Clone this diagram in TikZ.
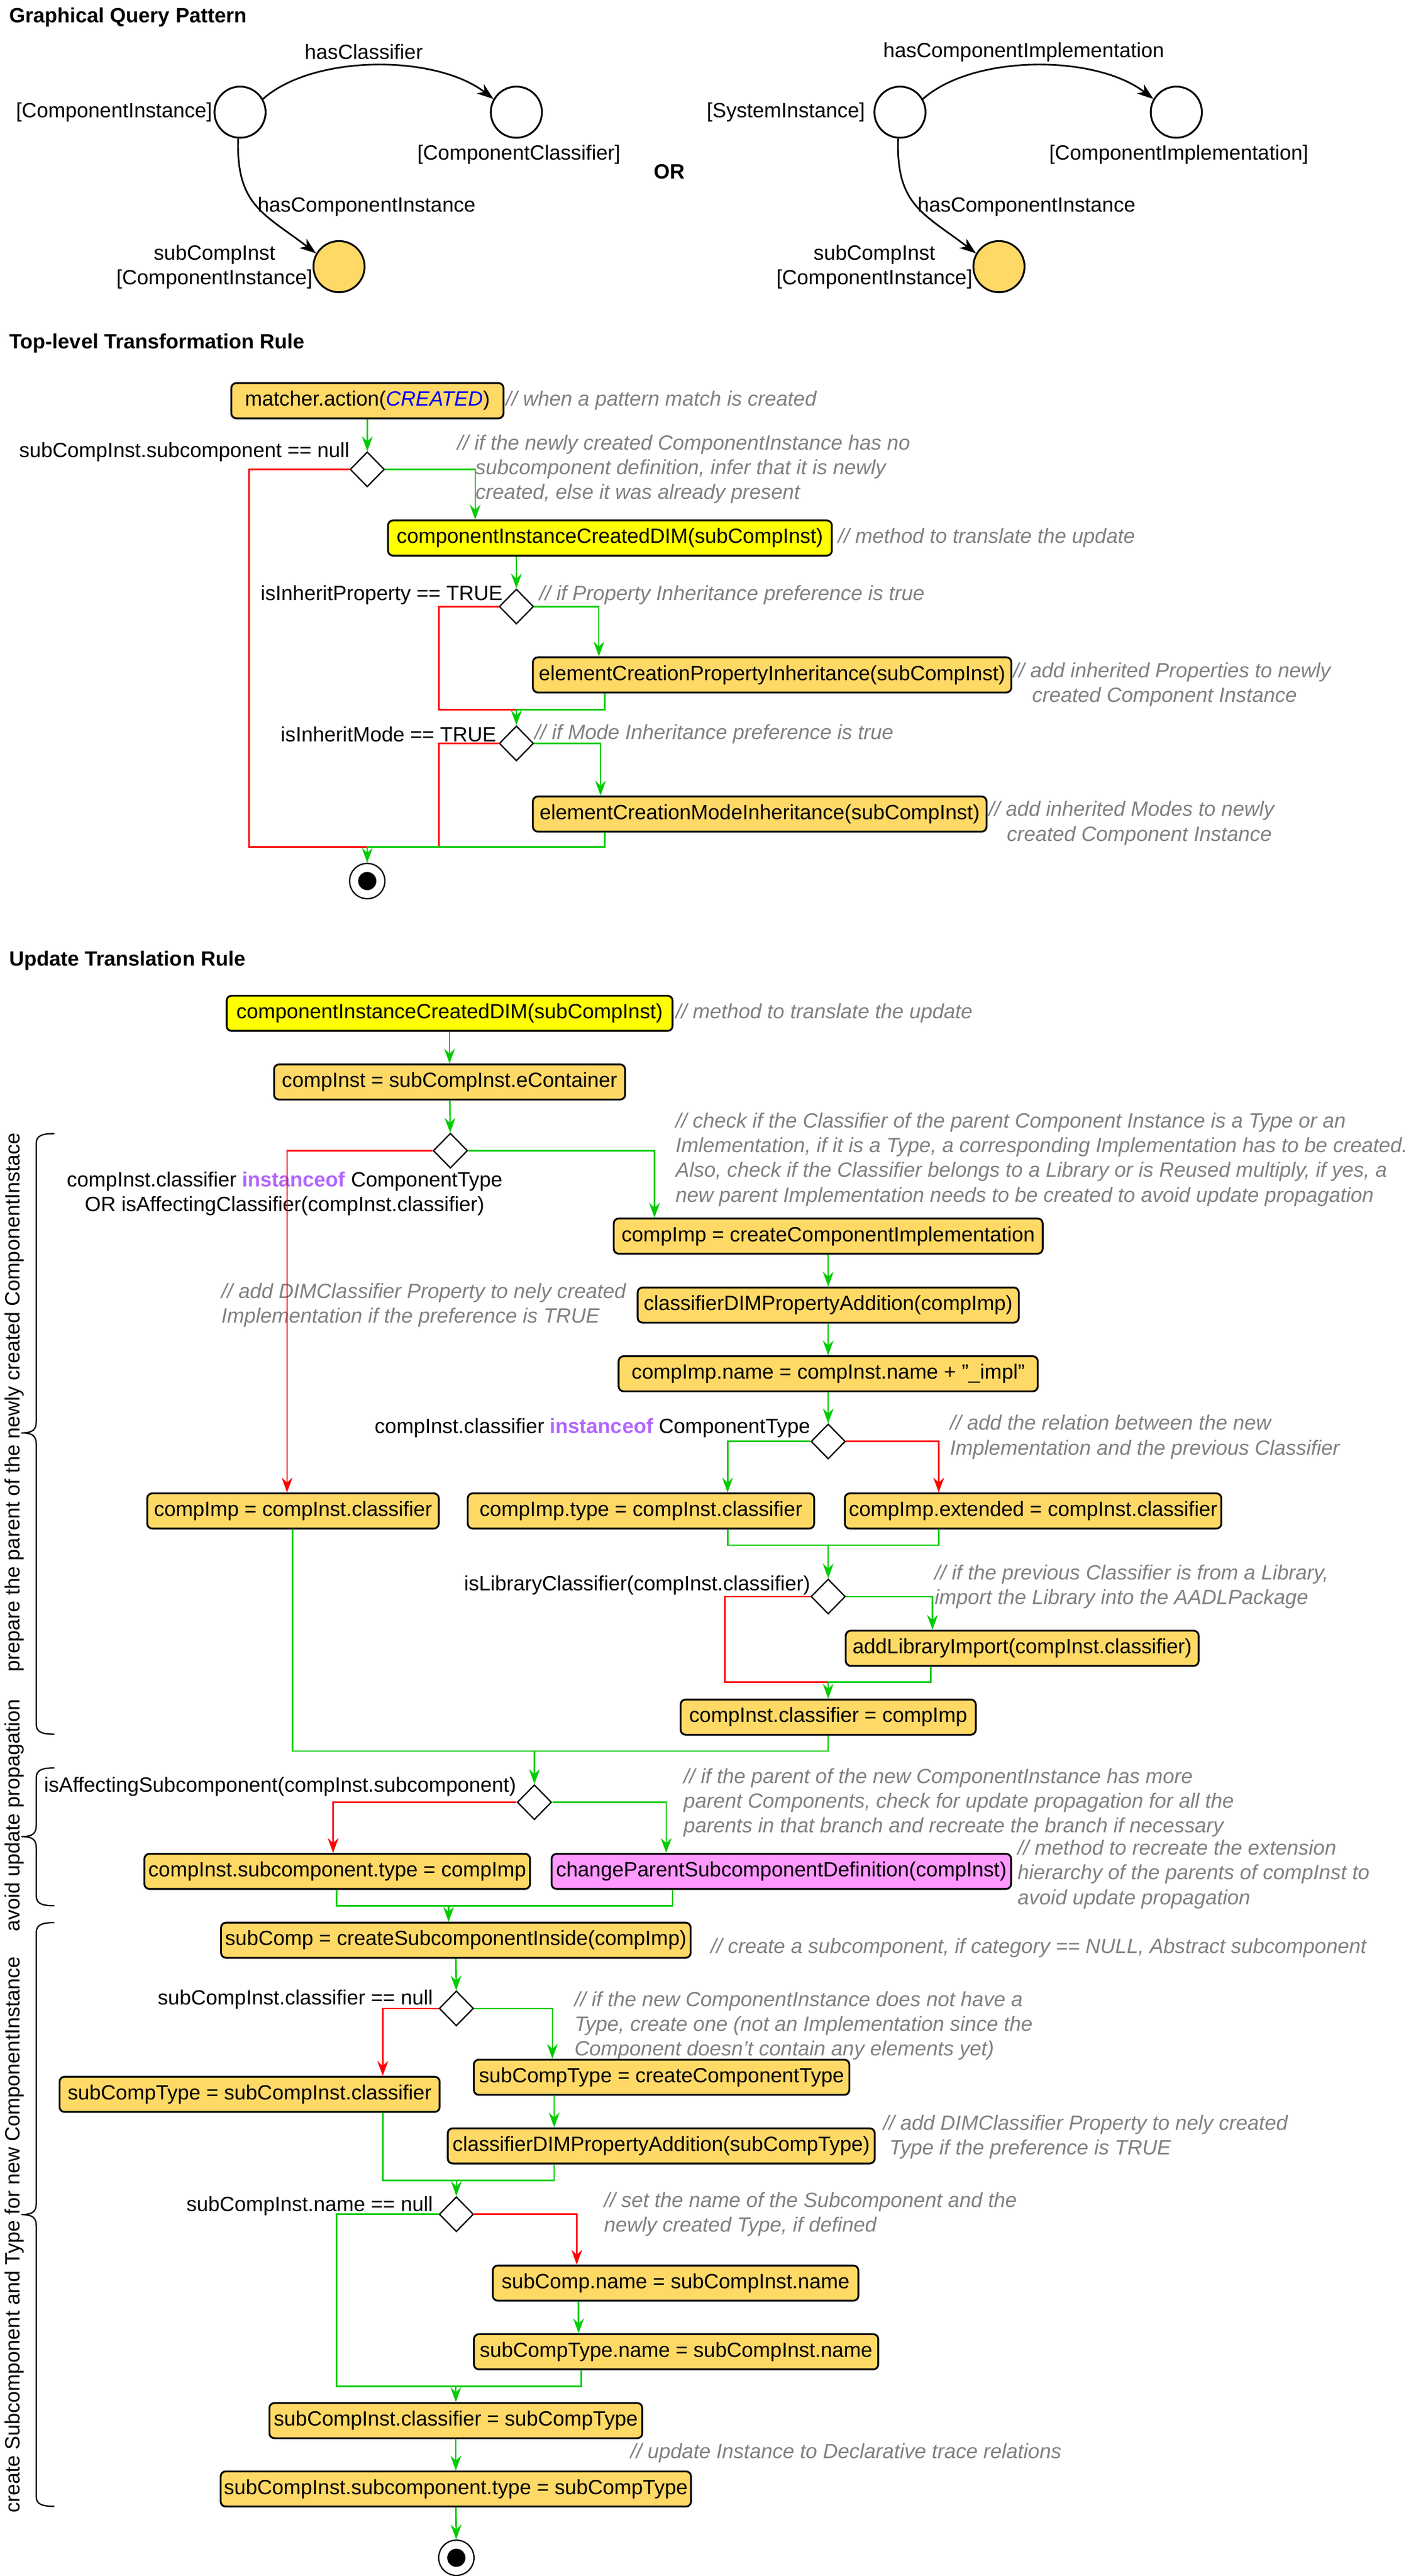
\documentclass[tikz,border=0pt]{standalone}
\usepackage{fontspec}
\setmainfont{Liberation Sans}
\usetikzlibrary{calc,positioning}
\usetikzlibrary{arrows.meta}
\usetikzlibrary{shapes.geometric}
\usepackage{xcolor}
\definecolor{actfill}{HTML}{FFD966}
\definecolor{dimfill}{HTML}{FFFF00}
\definecolor{pinkfill}{HTML}{FF99FF}
\definecolor{flowgreen}{HTML}{00CC00}
\definecolor{flowred}{HTML}{FF0000}
\definecolor{cmtgray}{HTML}{808080}
\definecolor{kwpurple}{HTML}{B266FF}
\definecolor{kwblue}{HTML}{0000FF}

\begin{document}
\begin{tikzpicture}[x=1pt,y=-0.9955pt,
  font=\fontsize{12.5}{15}\selectfont,
  act/.style={draw,line width=1.1pt,rounded corners=3pt,fill=actfill,minimum height=21.3pt,inner xsep=2pt,inner ysep=0pt},
  dec/.style={draw,diamond,line width=.8pt,fill=white,minimum width=20.8pt,minimum height=21.2pt,inner sep=0pt},
  cmt/.style={text=cmtgray,font=\fontsize{12.5}{15}\selectfont\itshape,anchor=west,inner sep=0pt,align=left},
  lbl/.style={inner sep=0pt},
  ttl/.style={font=\fontsize{12.5}{15}\selectfont\bfseries,inner sep=0pt},
  obj/.style={draw,circle,line width=1.1pt,fill=white,minimum size=31pt,inner sep=0pt},
  final/.style={draw,circle,line width=.8pt,fill=white,minimum size=21.4pt,inner sep=0pt},
  ok/.style={draw=flowgreen,line width=.9pt},
  ko/.style={draw=flowred,line width=.9pt},
  arr/.style={-{Stealth[length=9pt,width=6.5pt,inset=3pt]}},
  qarr/.style={line width=1pt,-{Stealth[length=10pt,width=7pt,inset=3pt]}}]
  \useasboundingbox (0,0) rectangle (858,1568);

  % Graphical Query Pattern
  \node[ttl,anchor=west] (title1) at (5.5,10.6) {Graphical Query Pattern};
  \foreach \dx/\src/\trg/\rel/\k/\lx in {0/{[ComponentInstance]}/{[ComponentClassifier]}/hasClassifier/a/128.8,
      400/{[SystemInstance]}/{[ComponentImplementation]}/hasComponentImplementation/b/524.5}
  {
    \node[obj] (src\k) at ({145.5+\dx},68.3) {};
    \node[obj] (trg\k) at ({313+\dx},68.3) {};
    \node[obj,fill=actfill] (sub\k) at ({205.5+\dx},162.3) {};
    \node[lbl,anchor=east] (srclbl\k) at (\lx,68.4) {\src};
    \node[lbl] (trglbl\k) at ({314.5+\dx},94.1) {\trg};
    \node[lbl,align=center] (sublbl\k) at ({130+\dx},162.4) {subCompInst\\{}[ComponentInstance]};
    \node[lbl] (rel\k) at ({220.5+\dx},31.7) {\rel};
    \node[lbl] (hci\k) at ({222.2+\dx},125.6) {hasComponentInstance};
    \draw[qarr] (src\k.30) .. controls ({190+\dx},33) and ({264+\dx},33) .. (trg\k.150);
    \draw[qarr] (src\k.266) .. controls ({143+\dx},125) and ({160+\dx},130) .. (sub\k.150);
  }
  \node[ttl] (orlbl) at (405.6,104.5) {OR};

  % Top-level Transformation Rule
  \node[ttl,anchor=west] (title2) at (5.5,209) {Top-level Transformation Rule};
  \node[act,minimum width=165pt] (match) at (222.7,243.9) {matcher.action(\textcolor{kwblue}{\itshape CREATED})};
  \node[cmt] (matchcmt) at (306.4,243.9) {// when a pattern match is created};
  \node[dec] (d1) at (222.6,285.7) {};
  \node[lbl,anchor=east] (d1lbl) at (212,275) {subCompInst.subcomponent == null};
  \node[cmt] (d1cmt) at (277,285.6) {// if the newly created ComponentInstance has no\\\hspace*{11pt}subcomponent definition, infer that it is newly\\\hspace*{11pt}created, else it was already present};
  \node[act,fill=dimfill,minimum width=269pt] (dim1) at (369.7,327.5) {componentInstanceCreatedDIM(subCompInst)};
  \node[cmt] (dim1cmt) at (507.8,327.5) {// method to translate the update};
  \node[dec] (d2) at (313,369.2) {};
  \node[lbl,anchor=east] (d2lbl) at (304.8,362.1) {isInheritProperty == TRUE};
  \node[cmt] (d2cmt) at (326.7,362.1) {// if Property Inheritance preference is true};
  \node[act,minimum width=290pt] (pinh) at (468,410.8) {elementCreationPropertyInheritance(subCompInst)};
  \node[cmt] (pinhcmt) at (613.9,416.8) {// add inherited Properties to newly\\\hspace*{11.5pt}created Component Instance};
  \node[dec] (d3) at (313,452.5) {};
  \node[lbl,anchor=east] (d3lbl) at (301,446.8) {isInheritMode == TRUE};
  \node[cmt] (d3cmt) at (323.9,446.8) {// if Mode Inheritance preference is true};
  \node[act,minimum width=275pt] (minh) at (460.5,495.5) {elementCreationModeInheritance(subCompInst)};
  \node[cmt] (minhcmt) at (599.1,501.1) {// add inherited Modes to newly\\\hspace*{11pt}created Component Instance};
  \node[final] (end1) at (222.6,536.3) {};
  \fill (end1) circle (5.5pt);
  \coordinate (m1) at (313,431.9);
  \coordinate (m2) at (222.6,515.6);

  \draw[ok,arr] (match) -- (d1);
  \draw[ok,arr] (d1.east) -| (288,0 |- dim1.north);
  \draw[ok,arr] (d2 |- dim1.south) -- (d2.north);
  \draw[ok,arr] (d2.east) -| (363,0 |- pinh.north);
  \draw[ko] (d2.west) -| (266,0 |- m1) -- (m1);
  \draw[ok] (366.6,0 |- pinh.south) |- (m1);
  \draw[ok,arr] (m1) -- (d3.north);
  \draw[ok,arr] (d3.east) -| (364,0 |- minh.north);
  \draw[ko] (d1.west) -| (151,0 |- m2) -- (m2);
  \draw[ko] (d3.west) -| (266,0 |- m2);
  \draw[ok] (366.6,0 |- minh.south) |- (m2);
  \draw[ok,arr] (m2) -- (end1);

  % Update Translation Rule
  \node[ttl,anchor=west] (title3) at (5.5,584.7) {Update Translation Rule};
  \node[act,fill=dimfill,minimum width=270.3pt] (dim2) at (272.5,616.8) {componentInstanceCreatedDIM(subCompInst)};
  \node[cmt] (dim2cmt) at (409.3,616.8) {// method to translate the update};
  \node[act,minimum width=212.8pt] (u2) at (272.5,658.6) {compInst = subCompInst.eContainer};
  \node[dec] (d4) at (273,700.4) {};
  \node[lbl,align=center] (d4lbl) at (172.5,726.5) {compInst.classifier \textcolor{kwpurple}{\bfseries instanceof} ComponentType\\OR isAffectingClassifier(compInst.classifier)};
  \node[cmt] (d4cmt) at (409.3,705.8) {// check if the Classifier of the parent Component Instance is a Type or an\\Imlementation, if it is a Type, a corresponding Implementation has to be created.\\Also, check if the Classifier belongs to a Library or is Reused multiply, if yes, a\\new parent Implementation needs to be created to avoid update propagation};
  \node[act,minimum width=260pt] (u3) at (502,752.4) {compImp = createComponentImplementation};
  \node[act,minimum width=231pt] (u4) at (502,794.4) {classifierDIMPropertyAddition(compImp)};
  \node[cmt] (b1cmt) at (134,794.5) {// add DIMClassifier Property to nely created\\Implementation if the preference is TRUE};
  \node[act,minimum width=254pt] (u5) at (502,836.2) {compImp.name = compInst.name + "\_impl"};
  \node[dec] (d5) at (502,877.4) {};
  \node[lbl,anchor=east] (d5lbl) at (491.3,869.3) {compInst.classifier \textcolor{kwpurple}{\bfseries instanceof} ComponentType};
  \node[cmt] (d5cmt) at (575.6,874.8) {// add the relation between the new\\Implementation and the previous Classifier};
  \node[act,minimum width=176.7pt] (b1) at (177.6,919.7) {compImp = compInst.classifier};
  \node[act,minimum width=210pt] (b2) at (388.5,919.7) {compImp.type = compInst.classifier};
  \node[act,minimum width=228.2pt] (b3) at (626.2,919.7) {compImp.extended = compInst.classifier};
  \node[dec] (d6) at (502,971.8) {};
  \node[lbl,anchor=east] (d6lbl) at (491.3,964.8) {isLibraryClassifier(compInst.classifier)};
  \node[cmt] (d6cmt) at (566.3,965.8) {// if the previous Classifier is from a Library,\\import the Library into the AADLPackage};
  \node[act,minimum width=213.9pt] (b4) at (619.6,1003.3) {addLibraryImport(compInst.classifier)};
  \node[act,minimum width=178.9pt] (b5) at (502,1045.2) {compInst.classifier = compImp};
  \node[dec] (d7) at (323.9,1097) {};
  \node[lbl,anchor=east] (d7lbl) at (313,1087.5) {isAffectingSubcomponent(compInst.subcomponent)};
  \node[cmt] (d7cmt) at (414.2,1097.2) {// if the parent of the new ComponentInstance has more\\parent Components, check for update propagation for all the\\parents in that branch and recreate the branch if necessary};
  \node[act,minimum width=233.7pt] (b6) at (204.4,1139.1) {compInst.subcomponent.type = compImp};
  \node[act,fill=pinkfill,minimum width=278.5pt] (b7) at (473.6,1139.1) {changeParentSubcomponentDefinition(compInst)};
  \node[cmt] (b7cmt) at (616.6,1140.9) {// method to recreate the extension\\hierarchy of the parents of compInst to\\avoid update propagation};
  \node[act,minimum width=284.6pt] (b8) at (276.3,1181) {subComp = createSubcomponentInside(compImp)};
  \node[cmt] (b8cmt) at (430.6,1185.6) {// create a subcomponent, if category == NULL, Abstract subcomponent};
  \node[dec] (d8) at (276.6,1222.5) {};
  \node[lbl,anchor=east] (d8lbl) at (262.6,1217) {subCompInst.classifier == null};
  \node[cmt] (d8cmt) at (348,1233) {// if the new ComponentInstance does not have a\\Type, create one (not an Implementation since the\\Component doesn't contain any elements yet)};
  \node[act,minimum width=230.4pt] (b9) at (151.3,1274.8) {subCompType = subCompInst.classifier};
  \node[act,minimum width=227.6pt] (b10) at (401,1264.4) {subCompType = createComponentType};
  \node[act,minimum width=258.8pt] (b11) at (400.8,1306.2) {classifierDIMPropertyAddition(subCompType)};
  \node[cmt] (b11cmt) at (535.1,1300.8) {// add DIMClassifier Property to nely created\\\hspace*{3.8pt}Type if the preference is TRUE};
  \node[dec] (d9) at (276.6,1347.8) {};
  \node[lbl,anchor=east] (d9lbl) at (262.6,1342.9) {subCompInst.name == null};
  \node[cmt] (d9cmt) at (366,1347.8) {// set the name of the Subcomponent and the\\newly created Type, if defined};
  \node[act,minimum width=221.6pt] (b12) at (409.5,1389.7) {subComp.name = subCompInst.name};
  \node[act,minimum width=245.1pt] (b13) at (409.8,1431.5) {subCompType.name = subCompInst.name};
  \node[act,minimum width=226pt] (b14) at (276.3,1473.4) {subCompInst.classifier = subCompType};
  \node[cmt] (b14cmt) at (381.9,1493.2) {// update Instance to Declarative trace relations};
  \node[act,minimum width=284.6pt] (b15) at (276.3,1515) {subCompInst.subcomponent.type = subCompType};
  \node[final] (end2) at (276.6,1556.9) {};
  \fill (end2) circle (5.5pt);
  \coordinate (m3) at (502,940.5);
  \coordinate (m4) at (502,1023.9);
  \coordinate (m5) at (323.9,1065.9);
  \coordinate (m6) at (271.9,1160);
  \coordinate (m7) at (276.6,1327.2);
  \coordinate (m8) at (276.3,1452.5);

  \draw[ok,arr] (dim2) -- (u2);
  \draw[ok,arr] (u2) -- (d4);
  \draw[ok,arr] (d4.east) -| (396.7,0 |- u3.north);
  \draw[ko,arr] (d4.west) -| (174,0 |- b1.north);
  \draw[ok,arr] (u3) -- (u4);
  \draw[ok,arr] (u4) -- (u5);
  \draw[ok,arr] (u5) -- (d5);
  \draw[ok,arr] (d5.west) -| (441,0 |- b2.north);
  \draw[ko,arr] (d5.east) -| (569,0 |- b3.north);
  \draw[ok] (441,0 |- b2.south) |- (569,0 |- m3) -- (569,0 |- b3.south);
  \draw[ok,arr] (m3) -- (d6);
  \draw[ok,arr] (d6.east) -| (565.2,0 |- b4.north);
  \draw[ko] (d6.west) -| (439.3,0 |- m4) -- (m4);
  \draw[ok] (564.1,0 |- b4.south) |- (m4);
  \draw[ok,arr] (m4) -- (b5);
  \draw[ok] (177.3,0 |- b1.south) |- (b5.south |- m5) -- (b5.south);
  \draw[ok,arr] (m5) -- (d7);
  \draw[ko,arr] (d7.west) -| (201.9,0 |- b6.north);
  \draw[ok,arr] (d7.east) -| (403.8,0 |- b7.north);
  \draw[ok] (204.1,0 |- b6.south) |- (407.6,0 |- m6) -- (407.6,0 |- b7.south);
  \draw[ok,arr] (m6) -- (271.9,0 |- b8.north);
  \draw[ok,arr] (b8) -- (d8);
  \draw[ko,arr] (d8.west) -| (232,0 |- b9.north);
  \draw[ok,arr] (d8.east) -| (334.8,0 |- b10.north);
  \draw[ok,arr] (335.9,0 |- b10.south) -- (335.9,0 |- b11.north);
  \draw[ok] (232,0 |- b9.south) |- (335.9,0 |- m7) -- (335.9,0 |- b11.south);
  \draw[ok,arr] (m7) -- (d9);
  \draw[ok] (d9.west) -| (204.1,0 |- m8) -- (m8);
  \draw[ko,arr] (d9.east) -| (349.6,0 |- b12.north);
  \draw[ok,arr] (350.7,0 |- b12.south) -- (350.7,0 |- b13.north);
  \draw[ok] (352.4,0 |- b13.south) |- (m8);
  \draw[ok,arr] (m8) -- (b14);
  \draw[ok,arr] (b14) -- (b15);
  \draw[ok,arr] (b15) -- (end2);

  % braces on the left
  \foreach \t/\m/\b in {690/872.2/1055.6, 1076.1/1117.9/1160, 1170.3/1348/1525.6}
    \draw[line width=.8pt] (33,\t) .. controls (25,\t) and (22,\t+1.5) .. (22,\t+6) -- (22,\m-7)
      .. controls (22,\m-2) and (20,\m) .. (13,\m) .. controls (20,\m) and (22,\m+2) .. (22,\m+7)
      -- (22,\b-6) .. controls (22,\b-1.5) and (25,\b) .. (33,\b);
  \node[rotate=90,anchor=base,inner sep=0pt] (brace1txt) at (12,853.6) {prepare the parent of the newly created ComponentInstace};
  \node[rotate=90,anchor=base,inner sep=0pt] (brace2txt) at (12,1105) {avoid update propagation};
  \node[rotate=90,anchor=base,inner sep=0pt] (brace3txt) at (12,1360.3) {create Subcomponent and Type for new ComponentInstance};
\end{tikzpicture}
\end{document}
